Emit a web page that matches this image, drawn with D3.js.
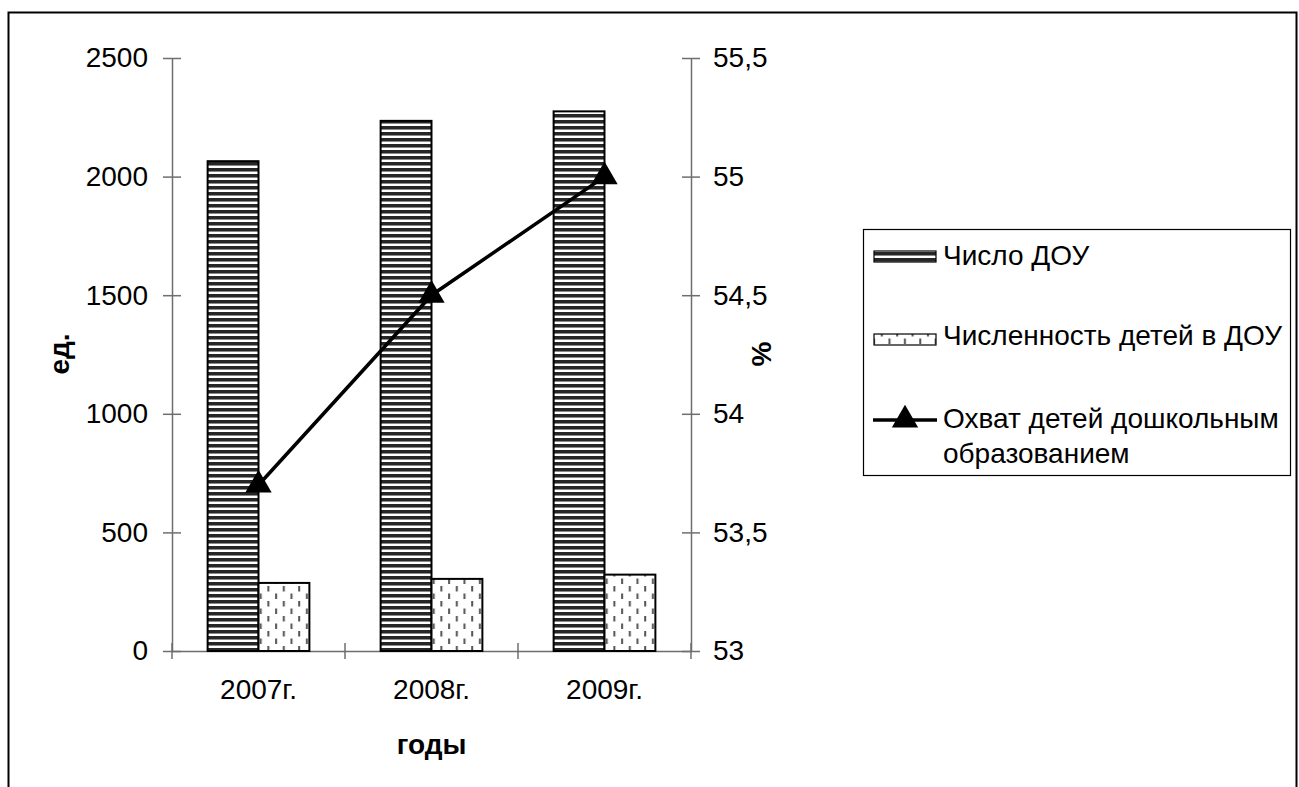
<!DOCTYPE html>
<html>
<head>
<meta charset="utf-8">
<script src="https://cdn.jsdelivr.net/npm/d3@7"></script>
<style>
  body { margin: 0; background: #fff; }
  svg text { font-family: "Liberation Sans", Arial, sans-serif; font-size: 28px; fill: #000; }
  .axis-title { font-weight: bold; }
</style>
</head>
<body>
<script>
  // Values
  let years = ['2007г.', '2008г.', '2009г.'];
  let douCount = [2065, 2235, 2275];        // Число ДОУ, ед.
  let childrenCount = [287, 304, 322];      // Численность детей в ДОУ
  let coverage = [53.7, 54.5, 55.0];        // Охват детей дошкольным образованием, %
  let leftTicks = [0, 500, 1000, 1500, 2000, 2500];
  let rightTicks = [53, 53.5, 54, 54.5, 55, 55.5];
  let legendLabels = ['Число ДОУ', 'Численность детей в ДОУ', 'Охват детей дошкольным', 'образованием'];

  let width = 1299, height = 787;
  let plot = { left: 172, right: 691, top: 58, bottom: 651 };

  let svg = d3.select('body').append('svg')
      .attr('width', width)
      .attr('height', height);

  let defs = svg.append('defs');

  // horizontal stripes
  let stripes = defs.append('pattern')
      .attr('id', 'stripes')
      .attr('patternUnits', 'userSpaceOnUse')
      .attr('width', 8).attr('height', 6);
  stripes.append('rect').attr('width', 8).attr('height', 6).attr('fill', '#fff');
  stripes.append('rect').attr('y', 0).attr('width', 8).attr('height', 3).attr('fill', '#262626');
  stripes.append('rect').attr('y', 3).attr('width', 8).attr('height', 1).attr('fill', '#8a8a8a');

  // dashed dots
  let dashes = defs.append('pattern')
      .attr('id', 'dashes')
      .attr('patternUnits', 'userSpaceOnUse')
      .attr('width', 15.4).attr('height', 15);
  dashes.append('rect').attr('width', 15.4).attr('height', 15).attr('fill', '#fff');
  dashes.append('rect').attr('x', 3).attr('y', 1).attr('width', 2).attr('height', 5.5).attr('fill', '#555');
  dashes.append('rect').attr('x', 10.7).attr('y', 8.5).attr('width', 2).attr('height', 5.5).attr('fill', '#555');

  // outer frame
  svg.append('rect')
    .attr('x', 8.5).attr('y', 12.5)
    .attr('width', 1288).attr('height', 820)
    .attr('fill', 'none').attr('stroke', '#000').attr('stroke-width', 2);

  let x = d3.scaleBand().domain(years).range([plot.left, plot.right]);
  let sub = d3.scaleBand().domain(['dou', 'children']).range([0, x.bandwidth()]).paddingOuter(0.7);
  let yLeft = d3.scaleLinear().domain([0, 2500]).range([plot.bottom, plot.top]);
  let yRight = d3.scaleLinear().domain([53, 55.5]).range([plot.bottom, plot.top]);

  let comma = d => String(d).replace('.', ',');

  // left axis
  let gl = svg.append('g')
      .attr('transform', 'translate(' + plot.left + ',0)')
      .call(d3.axisLeft(yLeft).tickValues(leftTicks).tickFormat(d3.format('d'))
        .tickSize(9).tickSizeOuter(0).tickPadding(15));
  gl.selectAll('.tick line').attr('x1', 9);

  // right axis
  let gr = svg.append('g')
      .attr('transform', 'translate(' + plot.right + ',0)')
      .call(d3.axisRight(yRight).tickValues(rightTicks).tickFormat(comma)
        .tickSize(9).tickSizeOuter(0).tickPadding(13));
  gr.selectAll('.tick line').attr('x1', -9);

  // x axis
  let gx = svg.append('g')
      .attr('transform', 'translate(0,' + plot.bottom + ')')
      .call(d3.axisBottom(x).tickSize(0).tickSizeOuter(0).tickPadding(28));
  let bounds = years.map(d => x(d)).concat([plot.right]);
  gx.selectAll('line.bound').data(bounds)
    .enter().append('line')
    .attr('class', 'bound')
    .attr('x1', d => d).attr('x2', d => d)
    .attr('y1', -8).attr('y2', 8);

  [gl, gr, gx].forEach(g => {
    g.selectAll('path.domain, line').attr('stroke', '#6e6e6e').attr('stroke-width', 1.5);
    g.selectAll('text').style('font-size', '28px').attr('fill', '#000');
  });

  // bars
  let groups = svg.append('g').selectAll('g.year').data(years)
    .enter().append('g')
    .attr('class', 'year')
    .attr('transform', d => 'translate(' + x(d) + ',0)');

  groups.append('rect')
    .attr('x', sub('dou'))
    .attr('y', (d, i) => yLeft(douCount[i]))
    .attr('width', sub.bandwidth())
    .attr('height', (d, i) => yLeft(0) - yLeft(douCount[i]))
    .attr('fill', 'url(#stripes)')
    .attr('stroke', '#000').attr('stroke-width', 2);

  groups.append('rect')
    .attr('x', sub('children'))
    .attr('y', (d, i) => yLeft(childrenCount[i]))
    .attr('width', sub.bandwidth())
    .attr('height', (d, i) => yLeft(0) - yLeft(childrenCount[i]))
    .attr('fill', 'url(#dashes)')
    .attr('stroke', '#000').attr('stroke-width', 2);

  // coverage line
  let cx = (d) => x(d) + x.bandwidth() / 2;
  let line = d3.line().x((d, i) => cx(years[i])).y(d => yRight(d));
  svg.append('path')
    .datum(coverage)
    .attr('d', line)
    .attr('fill', 'none')
    .attr('stroke', '#000')
    .attr('stroke-width', 3.5);

  let tri = d3.symbol().type(d3.symbolTriangle).size(300);
  svg.append('g').selectAll('path').data(coverage)
    .enter().append('path')
    .attr('d', tri)
    .attr('transform', (d, i) => 'translate(' + cx(years[i]) + ',' + yRight(d) + ')')
    .attr('fill', '#000');

  // axis titles
  svg.append('text').attr('class', 'axis-title')
    .attr('transform', 'translate(69,354) rotate(-90)')
    .attr('text-anchor', 'middle')
    .text('ед.');
  svg.append('text').attr('class', 'axis-title')
    .attr('transform', 'translate(771,354) rotate(-90)')
    .attr('text-anchor', 'middle')
    .text('%');
  svg.append('text').attr('class', 'axis-title')
    .attr('x', (plot.left + plot.right) / 2)
    .attr('y', 754)
    .attr('text-anchor', 'middle')
    .text('годы');

  // legend
  let legend = svg.append('g').attr('class', 'legend');
  legend.append('rect')
    .attr('x', 863.5).attr('y', 229.5)
    .attr('width', 427).attr('height', 246)
    .attr('fill', '#fff').attr('stroke', '#000').attr('stroke-width', 1.2);

  legend.append('rect')
    .attr('x', 874).attr('y', 251).attr('width', 62).attr('height', 11)
    .attr('fill', 'url(#stripes)').attr('stroke', '#000').attr('stroke-width', 1.2);
  legend.append('rect')
    .attr('x', 874).attr('y', 334).attr('width', 62).attr('height', 11)
    .attr('fill', 'url(#dashes)').attr('stroke', '#000').attr('stroke-width', 1.2);
  legend.append('line')
    .attr('x1', 873).attr('x2', 937).attr('y1', 420).attr('y2', 420)
    .attr('stroke', '#000').attr('stroke-width', 3.5);
  legend.append('path')
    .attr('d', tri)
    .attr('transform', 'translate(905,420)')
    .attr('fill', '#000');

  let labelY = [265, 345, 428, 463];
  legend.selectAll('text.item').data(legendLabels)
    .enter().append('text')
    .attr('class', 'item')
    .attr('x', 943)
    .attr('y', (d, i) => labelY[i])
    .text(d => d);
</script>
</body>
</html>
